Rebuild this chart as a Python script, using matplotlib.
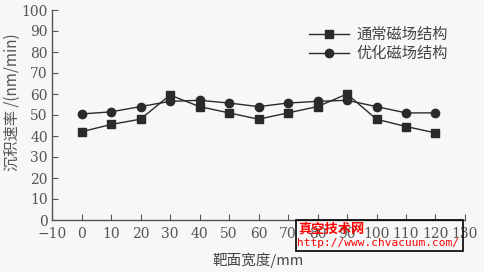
import matplotlib
matplotlib.use("Agg")
import matplotlib.pyplot as plt

x_pos = [0, 10, 20, 30, 40, 50, 60, 70, 80, 90, 100, 110, 120]
normal = [42, 45.5, 48, 59.5, 54, 51, 48, 51, 54, 60, 48, 44.5, 41.5]
optimized = [50.5, 51.5, 54, 56.5, 57, 55.7, 54, 55.7, 56.5, 57, 54, 51, 51]
xticks = list(range(-10, 131, 10))
yticks = list(range(0, 101, 10))
labels = ["通常磁场结构", "优化磁场结构"]

plt.rcParams['font.family'] = ['DejaVu Serif', 'Noto Sans CJK SC', 'DejaVu Sans']
cjk = ['Noto Sans CJK SC', 'DejaVu Sans']

fig = plt.figure(figsize=(4.84, 2.72), dpi=100, facecolor='#f7f7f7')
ax = fig.add_axes([52/484, 1-220/272, (465-52)/484, (220-10)/272])
ax.set_facecolor('#f7f7f7')

c = '#2a2a2a'
ax.plot(x_pos, normal, '-s', color=c, lw=1.0, ms=6, label=labels[0])
ax.plot(x_pos, optimized, '-o', color=c, lw=1.0, ms=6, label=labels[1])

ax.set_xlim(-10, 130)
ax.set_ylim(0, 100)
ax.set_xticks(xticks)
ax.set_yticks(yticks)
for s in ['top', 'right']:
    ax.spines[s].set_visible(False)
for s in ['left', 'bottom']:
    ax.spines[s].set_color('#555555')
    ax.spines[s].set_linewidth(1.0)
ax.tick_params(direction='in', length=4, colors='#555555', labelcolor='#555555', labelsize=10)
ax.tick_params(axis='y', pad=3)
ax.tick_params(axis='x', pad=5)

ax.set_xlabel('靶面宽度/mm', family=cjk, fontsize=10.5, color='#444444', labelpad=8)
ax.set_ylabel('沉积速率 /(nm/min)', family=cjk, fontsize=11, color='#555555')
ax.yaxis.set_label_coords(-0.075, 0.56)

leg = ax.legend(loc='upper left', bbox_to_anchor=(0.59, 0.99), frameon=False,
                prop={'family': cjk, 'size': 11}, handlelength=2.6, handletextpad=0.5,
                labelspacing=0.15, labelcolor='#444444')

box = plt.Rectangle((296/484, 1-251/272), (463-296)/484, 31/272, transform=fig.transFigure,
                    fill=False, edgecolor='black', lw=1.2)
fig.add_artist(box)
fig.text(298/484, 1-229/272, '真空技术网', family=cjk, color='#ff0000', fontsize=9.5,
         fontweight='bold', va='center', ha='left')
fig.text(297/484, 1-243/272, 'http://www.chvacuum.com/', family=['DejaVu Sans Mono'],
         color='#ff0000', fontsize=8, va='center', ha='left')

fig.savefig('out.png', dpi=100, facecolor=fig.get_facecolor())
